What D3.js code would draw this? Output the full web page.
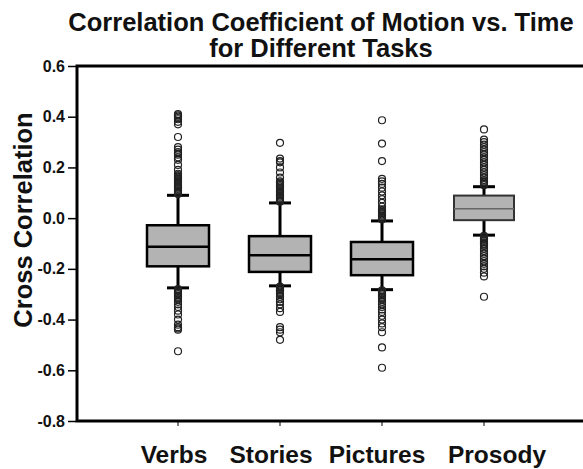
<!DOCTYPE html>
<html><head><meta charset="utf-8">
<script src="https://cdn.jsdelivr.net/npm/d3@7"></script>
<style>html,body{margin:0;padding:0;background:#fff;}svg{display:block;}</style>
</head><body><div id="chart"></div>
<script>
const categories = ["Verbs", "Stories", "Pictures", "Prosody"];
const q1 =      [-0.190, -0.212, -0.225, -0.008];
const medians = [-0.113, -0.146, -0.162,  0.037];
const q3 =      [-0.028, -0.071, -0.094,  0.089];
const whiskLo = [-0.275, -0.267, -0.282, -0.067];
const whiskHi = [ 0.090,  0.060, -0.011,  0.124];
const outVerbs = [0.41, 0.405, 0.40, 0.395, 0.39, 0.38, 0.37, 0.32, 0.28, 0.27, 0.26, 0.255, 0.25, 0.24, 0.23, 0.21, 0.19, 0.175, 0.17, 0.165, 0.16, 0.155, 0.15, 0.145, 0.14, 0.135, 0.13, 0.125, 0.12, 0.115, 0.11, 0.105, 0.10, 0.095,
  -0.28, -0.285, -0.29, -0.295, -0.30, -0.305, -0.31, -0.315, -0.32, -0.33, -0.34, -0.35, -0.365, -0.38, -0.40, -0.42, -0.43, -0.435, -0.44, -0.525];
const outStories = [0.297, 0.235, 0.225, 0.22, 0.20, 0.18, 0.16, 0.145, 0.14, 0.135, 0.13, 0.125, 0.12, 0.115, 0.11, 0.105, 0.10, 0.095, 0.09, 0.085, 0.08, 0.075, 0.07, 0.065,
  -0.27, -0.275, -0.28, -0.285, -0.29, -0.295, -0.30, -0.31, -0.32, -0.33, -0.34, -0.355, -0.37, -0.43, -0.44, -0.45, -0.48];
const outPictures = [0.386, 0.294, 0.225, 0.155, 0.145, 0.135, 0.12, 0.105, 0.09, 0.075, 0.06, 0.045, 0.035, 0.03, 0.025, 0.02, 0.015, 0.01, 0.005, 0.0, -0.005,
  -0.285, -0.29, -0.295, -0.30, -0.305, -0.31, -0.315, -0.32, -0.33, -0.34, -0.35, -0.36, -0.37, -0.385, -0.40, -0.415, -0.43, -0.45, -0.51, -0.59];
const outProsody = [0.35, 0.31, 0.30, 0.29, 0.28, 0.27, 0.26, 0.25, 0.24, 0.23, 0.22, 0.21, 0.20, 0.19, 0.18, 0.17, 0.16, 0.15, 0.145, 0.14, 0.135, 0.13,
  -0.07, -0.075, -0.08, -0.085, -0.09, -0.095, -0.10, -0.105, -0.11, -0.12, -0.13, -0.14, -0.15, -0.16, -0.17, -0.18, -0.19, -0.20, -0.215, -0.23, -0.31];
const outliers = [outVerbs, outStories, outPictures, outProsody];
const yTicks = [0.6, 0.4, 0.2, 0.0, -0.2, -0.4, -0.6, -0.8];
const titleLines = ["Correlation Coefficient of Motion vs. Time", "for Different Tasks"];
const yLabel = "Cross Correlation";

// layout-only: horizontal nudges of the category labels relative to their ticks
const labelNudge = [-4, -9, -5, 13];

const W = 583, H = 469;
const m = {left: 77, top: 66, right: 595, bottom: 421};
const svg = d3.select("#chart").append("svg").attr("width", W).attr("height", H)
  .style("font-family", "Arial, 'Liberation Sans', Helvetica, sans-serif");

const y = d3.scaleLinear().domain([-0.8, 0.6]).range([m.bottom, m.top]);
const x = d3.scaleBand().domain(categories).range([127, 535]);
const cx = c => x(c) + x.bandwidth() / 2;
const boxW = 62, capW = 22;

// frame
svg.append("rect").attr("x", m.left).attr("y", m.top)
  .attr("width", m.right - m.left).attr("height", m.bottom - m.top)
  .attr("fill", "none").attr("stroke", "#000").attr("stroke-width", 3);

// y axis
const yAxis = d3.axisLeft(y).tickValues(yTicks).tickFormat(d3.format(".1f")).tickSize(8).tickPadding(3);
const gy = svg.append("g").attr("transform", `translate(${m.left - 1},0)`).call(yAxis);
gy.select(".domain").remove();
gy.selectAll("line").attr("stroke", "#000").attr("stroke-width", 1.5);
gy.selectAll("text").attr("font-size", 16).attr("font-weight", "bold").attr("fill", "#111")
  .text(d => d3.format(".1f")(d).replace("−", "-"));

// x axis
const xAxis = d3.axisBottom(x).tickSize(4).tickPadding(20);
const gx = svg.append("g").attr("transform", `translate(0,${m.bottom + 1})`).call(xAxis);
gx.select(".domain").remove();
gx.selectAll("line").attr("stroke", "#000").attr("stroke-width", 1);
gx.selectAll("text").attr("font-size", 24.5).attr("font-weight", "bold").attr("fill", "#111")
  .attr("dx", (d, i) => labelNudge[i]);

// boxes
categories.forEach((c, i) => {
  const g = svg.append("g");
  const xc = cx(c);
  const light = i === 3;
  g.append("line").attr("x1", xc).attr("x2", xc).attr("y1", y(q3[i])).attr("y2", y(whiskHi[i]))
    .attr("stroke", "#000").attr("stroke-width", 3);
  g.append("line").attr("x1", xc).attr("x2", xc).attr("y1", y(q1[i])).attr("y2", y(whiskLo[i]))
    .attr("stroke", "#000").attr("stroke-width", 3);
  [whiskHi[i], whiskLo[i]].forEach(v => {
    g.append("line").attr("x1", xc - capW / 2).attr("x2", xc + capW / 2).attr("y1", y(v)).attr("y2", y(v))
      .attr("stroke", "#000").attr("stroke-width", 3);
  });
  g.selectAll("circle").data(outliers[i]).join("circle")
    .attr("cx", xc).attr("cy", d => y(d)).attr("r", 3.5)
    .attr("fill", "none").attr("stroke", "#222").attr("stroke-width", 1.2);
  const bw = light ? 60 : boxW;
  g.append("rect").attr("x", xc - bw / 2).attr("y", y(q3[i])).attr("width", bw)
    .attr("height", y(q1[i]) - y(q3[i]))
    .attr("fill", "#b3b3b3").attr("stroke", light ? "#333" : "#000").attr("stroke-width", light ? 2 : 2.5);
  g.append("line").attr("x1", xc - bw / 2).attr("x2", xc + bw / 2).attr("y1", y(medians[i])).attr("y2", y(medians[i]))
    .attr("stroke", light ? "#666" : "#000").attr("stroke-width", light ? 1.5 : 2.5);
});

// title
svg.append("text").attr("x", 321).attr("y", 31).attr("text-anchor", "middle")
  .attr("font-size", 25.5).attr("font-weight", "bold").attr("fill", "#111").text(titleLines[0]);
svg.append("text").attr("x", 321).attr("y", 57).attr("text-anchor", "middle")
  .attr("font-size", 25.5).attr("font-weight", "bold").attr("fill", "#111").text(titleLines[1]);

// y label
svg.append("text").attr("transform", `translate(32,220) rotate(-90)`).attr("text-anchor", "middle")
  .attr("font-size", 25.5).attr("font-weight", "bold").attr("fill", "#111").text(yLabel);
</script></body></html>
